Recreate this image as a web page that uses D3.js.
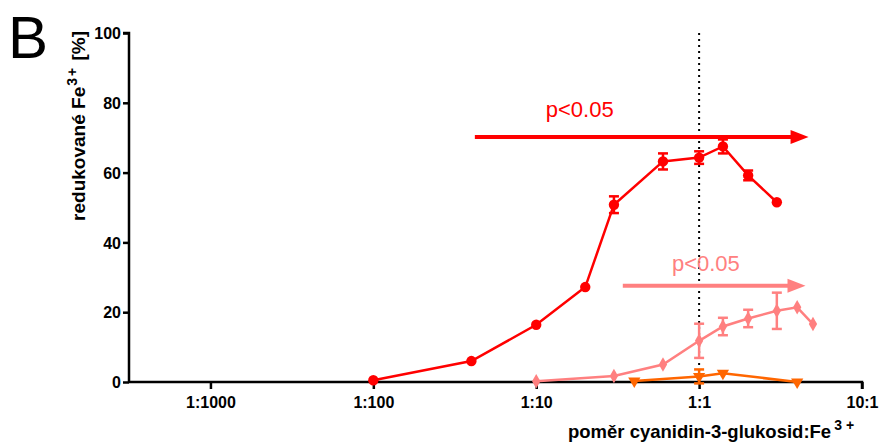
<!DOCTYPE html>
<html lang="en">
<head>
<meta charset="utf-8">
<title>Redukované Fe3+</title>
<script src="https://d3js.org/d3.v7.min.js"></script>
<style>
  body { margin: 0; background: #fff; }
  text { font-family: "Liberation Sans", Arial, sans-serif; }
  .tick-label { font-size: 16px; font-weight: bold; }
  .axis-title { font-size: 18.5px; font-weight: bold; }
</style>
</head>
<body>
<script>
// x ticks (ratio cyanidin-3-glukosid : Fe3+)
var xTickValues = [0.001, 0.01, 0.1, 1, 10];
var xTickLabels = ["1:1000", "1:100", "1:10", "1:1", "10:1"];
var yTickValues = [0, 20, 40, 60, 80, 100];

// series 1 - red circles
var redX = [0.01, 0.04, 0.1, 0.2, 0.3, 0.6, 1, 1.4, 2, 3];
var redY = [0.5, 6.0, 16.4, 27.2, 50.8, 63.2, 64.3, 67.5, 59.2, 51.5];
var redErr = [0, 0, 0, 0, 2.4, 2.3, 1.8, 2.0, 1.4, 0];

// series 2 - pink diamonds
var pinkX = [0.1, 0.3, 0.6, 1, 1.4, 2, 3, 4, 5];
var pinkY = [0.2, 1.7, 5.0, 11.8, 15.9, 18.2, 20.4, 21.4, 16.6];
var pinkErr = [0, 0, 0, 4.9, 2.5, 2.5, 5.2, 0, 0];

// series 3 - orange triangles
var orangeX = [0.4, 1, 1.4, 4];
var orangeY = [0.3, 1.6, 2.5, 0.0];
var orangeErr = [0, 2.0, 0, 0];

// significance arrows: [x start, x end, y, label x, label y]
var redArrow = [0.042, 4.7, 70.2, 0.185, 75.9];
var pinkArrow = [0.34, 4.5, 27.6, 1.1, 31.8];

var w = 881, h = 446;

var x = d3.scaleLog()
    .domain([Math.pow(10, -3.5), 10])
    .range([129, 862]);

var y = d3.scaleLinear()
    .domain([0, 100])
    .range([382, 33]);

var svg = d3.select("body").append("svg")
    .attr("width", w)
    .attr("height", h);

// panel letter
svg.append("text")
    .attr("x", 8)
    .attr("y", 58)
    .style("font-size", "60px")
    .text("B");

// dotted line at 1:1
svg.append("line")
    .attr("x1", x(1)).attr("x2", x(1))
    .attr("y1", y(100)).attr("y2", y(0))
    .attr("stroke", "#000")
    .attr("stroke-width", 2)
    .attr("stroke-dasharray", "2,4");

// axes
var yAxis = d3.axisLeft(y).tickValues(yTickValues).tickSize(6).tickFormat(d3.format("d"));
var gy = svg.append("g")
    .attr("transform", "translate(" + x.range()[0] + ",0)")
    .call(yAxis);

var xAxis = d3.axisBottom(x).tickValues(xTickValues).tickSize(7)
    .tickFormat(function(d, i) { return xTickLabels[i]; });
var gx = svg.append("g")
    .attr("transform", "translate(0," + y(0) + ")")
    .call(xAxis);

[gx, gy].forEach(function(g) {
  g.select(".domain").attr("stroke-width", 2.5);
  g.selectAll(".tick line").attr("stroke-width", 2.5);
  g.selectAll(".tick text")
    .attr("class", "tick-label")
    .attr("fill", "#000")
    .style("font-family", '"Liberation Sans", Arial, sans-serif');
});
gx.select(".domain").attr("d", "M" + x.range()[0] + ",0H" + x.range()[1] + "V7");
gy.select(".domain").attr("d", "M0," + y(0) + "V" + y(100) + "H-6");
gx.selectAll(".tick text").attr("y", 15);
gy.selectAll(".tick text").attr("x", -8).attr("dy", "0.36em");

// axis titles
var yt = svg.append("text")
    .attr("class", "axis-title")
    .attr("transform", "translate(85,31) rotate(-90)")
    .attr("text-anchor", "end")
    .style("font-size", "19px");
yt.append("tspan").text("redukované Fe");
yt.append("tspan").attr("dy", -8).attr("dx", 1).style("font-size", "14px").style("letter-spacing", "2px").text("3+");
yt.append("tspan").attr("dy", 8).text(" [%]");

var xt = svg.append("text")
    .attr("class", "axis-title")
    .attr("x", 568)
    .attr("y", 438);
xt.append("tspan").text("poměr cyanidin-3-glukosid:Fe");
xt.append("tspan").attr("dy", -8).attr("dx", 3).style("font-size", "14px").style("letter-spacing", "4px").text("3+");

// helpers
function drawSeries(xs, ys, errs, color, lineW, symbol, size) {
  var pts = xs.map(function(v, i) { return {x: v, y: ys[i], e: errs[i]}; });
  var line = d3.line().x(function(d) { return x(d.x); }).y(function(d) { return y(d.y); });
  svg.append("path")
      .datum(pts)
      .attr("d", line)
      .attr("fill", "none")
      .attr("stroke", color)
      .attr("stroke-width", lineW);

  var eb = svg.append("g").attr("stroke", color).attr("stroke-width", 2.5);
  pts.filter(function(d) { return d.e > 0; }).forEach(function(d) {
    var cx = x(d.x), y1 = y(d.y + d.e), y2 = y(d.y - d.e);
    eb.append("line").attr("x1", cx).attr("x2", cx).attr("y1", y1).attr("y2", y2);
    eb.append("line").attr("x1", cx - 5).attr("x2", cx + 5).attr("y1", y1).attr("y2", y1);
    eb.append("line").attr("x1", cx - 5).attr("x2", cx + 5).attr("y1", y2).attr("y2", y2);
  });

  svg.append("g").selectAll("path")
      .data(pts)
      .enter().append("path")
      .attr("d", d3.symbol().type(symbol).size(size))
      .attr("transform", function(d) {
        return "translate(" + x(d.x) + "," + y(d.y) + ")" + (symbol === d3.symbolTriangle ? " rotate(180)" : "");
      })
      .attr("fill", color);
}

drawSeries(pinkX, pinkY, pinkErr, "#ff8080", 2.5, d3.symbolDiamond, 60);
drawSeries(orangeX, orangeY, orangeErr, "#ff6600", 2.5, d3.symbolTriangle, 65);
drawSeries(redX, redY, redErr, "#ff0000", 2.5, d3.symbolCircle, 85);

// arrows
function drawArrow(a, color) {
  var x1 = x(a[0]), x2 = x(a[1]), yy = y(a[2]);
  svg.append("line")
      .attr("x1", x1).attr("x2", x2 - 16)
      .attr("y1", yy).attr("y2", yy)
      .attr("stroke", color)
      .attr("stroke-width", 4);
  svg.append("path")
      .attr("d", "M" + (x2 - 18) + "," + (yy - 7) + "L" + x2 + "," + yy + "L" + (x2 - 18) + "," + (yy + 7) + "Z")
      .attr("fill", color);
  svg.append("text")
      .attr("x", x(a[3]))
      .attr("y", y(a[4]))
      .attr("text-anchor", "middle")
      .attr("fill", color)
      .style("font-size", "22px")
      .text("p<0.05");
}
drawArrow(redArrow, "#ff0000");
drawArrow(pinkArrow, "#ff8080");
</script>
</body>
</html>
